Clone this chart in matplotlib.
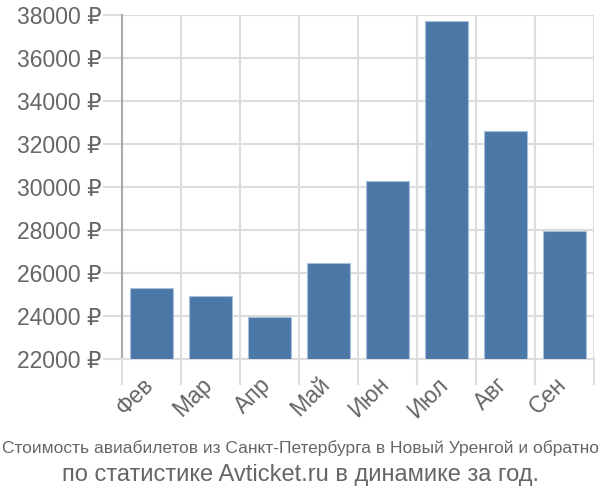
import matplotlib
matplotlib.use('Agg')
import matplotlib.pyplot as plt
import matplotlib.transforms as mtransforms
import numpy as np

# data
months = ['Фев', 'Мар', 'Апр', 'Май', 'Июн', 'Июл', 'Авг', 'Сен']
prices = [25300, 24950, 23950, 26450, 30300, 37700, 32600, 27950]
y_ticks = [22000, 24000, 26000, 28000, 30000, 32000, 34000, 36000, 38000]

plt.rcParams['font.family'] = ['Liberation Sans', 'DejaVu Sans']
text_c = '#666666'
grid_c = '#dddddd'

fig = plt.figure(figsize=(6, 5), dpi=100)
ax = fig.add_axes([122 / 600, 1 - 359 / 500, 472 / 600, 344 / 500])

x = np.arange(len(months))
ax.bar(x, prices, width=0.72, bottom=0, color='#4c78a8', edgecolor='#a9c0dc',
       linewidth=0.8, zorder=3)

ax.set_xlim(-0.5, len(months) - 0.5)
ax.set_ylim(y_ticks[0], y_ticks[-1])

ax.set_yticks(y_ticks)
ax.set_yticklabels([f'{v} ₽' for v in y_ticks], fontsize=16.5, color=text_c)
ax.tick_params(axis='y', length=14, width=1.5, color=grid_c, pad=1)

ax.set_xticks(x)
ax.set_xticklabels(months, fontsize=16.5, color=text_c, rotation=45,
                   ha='right', rotation_mode='anchor')
ax.tick_params(axis='x', which='major', length=0, pad=10)
# nudge the rotated labels left so they end under the bar centres
shift = mtransforms.ScaledTranslation(-10 / 100, 0, fig.dpi_scale_trans)
for lbl in ax.get_xticklabels():
    lbl.set_transform(lbl.get_transform() + shift)

ax.set_xticks(np.arange(-0.5, len(months)), minor=True)
ax.tick_params(axis='x', which='minor', length=19, width=1.5, color=grid_c)
ax.xaxis.get_minor_ticks()[0].tick1line.set_color('#aaaaaa')

ax.grid(True, which='minor', axis='x', color=grid_c, linewidth=1.5, zorder=0)
ax.grid(True, which='major', axis='y', color=grid_c, linewidth=1.5, zorder=0)

for s in ['top', 'right']:
    ax.spines[s].set_visible(False)
ax.spines['left'].set_color('#aaaaaa')
ax.spines['left'].set_linewidth(1.5)
ax.spines['bottom'].set_color(grid_c)
ax.spines['bottom'].set_linewidth(1.5)

fig.text(0.5, 1 - 448 / 500, 'Стоимость авиабилетов из Санкт-Петербурга в Новый Уренгой и обратно',
         ha='center', va='center', fontsize=12.5, color=text_c,
         family=['Liberation Sans Narrow', 'Liberation Sans', 'DejaVu Sans'])
fig.text(0.5, 1 - 475 / 500, 'по статистике Avticket.ru в динамике за год.',
         ha='center', va='center', fontsize=17, color=text_c)

fig.savefig('out.png', dpi=100)
